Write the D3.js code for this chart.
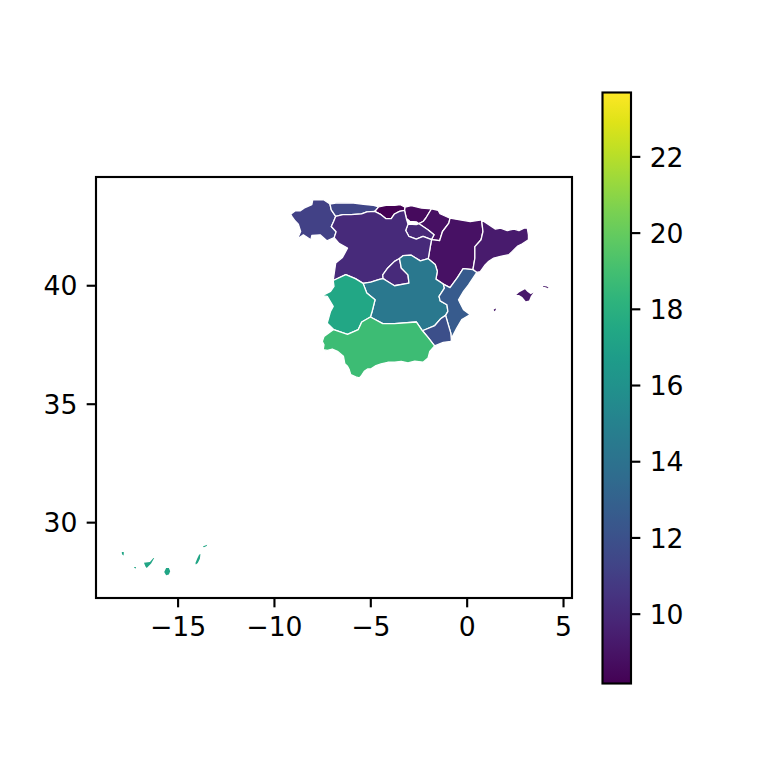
<!DOCTYPE html>
<html>
<head>
<meta charset="utf-8">
<script src="https://cdn.jsdelivr.net/npm/d3@7"></script>
<style>
	html, body { margin: 0; padding: 0; background: #fff; }
	svg { display: block; }
	text { font-family: "DejaVu Sans", sans-serif; }
</style>
</head>
<body>
<div class="d3-here"></div>
<script>
// Values per region
var regionNames = ['Galicia', 'Asturias', 'Cantabria', 'Pais Vasco', 'Navarra', 'La Rioja', 'Aragon', 'Cataluna',
	'Castilla y Leon', 'Madrid', 'Castilla-La Mancha', 'Extremadura', 'Valencia', 'Murcia', 'Andalucia', 'Baleares', 'Canarias'];
var regionValues = [11.2, 11.4, 8.2, 8.6, 8.8, 9.9, 8.9, 9.3, 10.0, 10.0, 14.4, 17.4, 12.6, 11.9, 18.8, 9.2, 17.3];

// Outlines, [lon, lat]. Neighbours share their border points
var galicia = [[[-9.16,43.02],[-8.93,43.16],[-8.67,43.16],[-8.41,43.30],[-8.06,43.42],[-8.01,43.63],[-7.45,43.63],[-7.12,43.45],[-7.05,43.20],[-6.82,42.93],[-6.93,42.71],[-7.05,42.50],[-6.80,42.28],[-6.90,42.03],[-7.28,41.90],[-7.63,42.15],[-8.06,42.12],[-8.11,41.94],[-8.50,42.15],[-8.81,41.97],[-8.64,42.29],[-8.76,42.60],[-8.93,42.74],[-9.06,42.88]]];
var asturias = [[[-7.12,43.45],[-6.75,43.50],[-5.90,43.49],[-5.38,43.44],[-4.86,43.39],[-4.59,43.33],[-4.70,43.22],[-4.80,43.14],[-5.20,43.12],[-5.48,43.03],[-6.02,43.00],[-6.45,43.00],[-6.82,42.93],[-7.05,43.20]]];
var cantabria = [[[-4.59,43.33],[-4.21,43.39],[-3.77,43.39],[-3.47,43.42],[-3.22,43.32],[-3.25,43.18],[-3.51,43.14],[-3.77,43.03],[-3.94,42.83],[-4.21,42.83],[-4.47,43.00],[-4.80,43.14],[-4.70,43.22]]];
var paisVasco = [[[-3.22,43.32],[-2.90,43.38],[-2.37,43.28],[-1.85,43.25],[-2.15,42.85],[-2.29,42.71],[-2.50,42.62],[-2.64,42.70],[-2.98,42.72],[-3.16,42.85],[-3.25,43.18]]];
var navarra = [[[-1.85,43.25],[-1.50,43.18],[-1.41,43.04],[-0.89,42.85],[-0.95,42.64],[-1.28,42.29],[-1.43,41.90],[-1.85,41.95],[-1.72,42.15],[-2.02,42.35],[-2.50,42.62],[-2.29,42.71],[-2.15,42.85]]];
var laRioja = [[[-3.07,42.60],[-2.64,42.58],[-2.50,42.62],[-2.02,42.35],[-1.72,42.15],[-1.85,41.95],[-2.29,42.08],[-2.64,41.97],[-3.02,42.08],[-3.19,42.33]]];
var aragon = [[[-0.89,42.85],[-0.37,42.78],[0.16,42.71],[0.75,42.78],[0.82,42.29],[0.72,41.94],[0.40,41.65],[0.40,41.17],[0.30,40.68],[-0.21,40.72],[-0.50,40.35],[-0.89,39.92],[-1.24,40.07],[-1.62,40.28],[-1.55,40.61],[-1.66,40.90],[-2.02,41.14],[-1.94,41.52],[-1.85,41.95],[-1.43,41.90],[-1.28,42.29],[-0.95,42.64]]];
var cataluna = [[[0.75,42.78],[1.47,42.39],[1.73,42.43],[2.08,42.33],[2.43,42.39],[2.69,42.33],[2.95,42.43],[3.12,42.43],[3.18,42.15],[3.18,41.94],[2.86,41.77],[2.60,41.66],[2.34,41.45],[2.16,41.31],[1.73,41.24],[1.38,41.17],[1.12,41.03],[0.94,40.89],[0.68,40.60],[0.50,40.56],[0.30,40.68],[0.40,41.17],[0.40,41.65],[0.72,41.94],[0.82,42.29]]];
var castillaLeon = [[[-6.82,42.93],[-6.45,43.00],[-6.02,43.00],[-5.48,43.03],[-5.20,43.12],[-4.80,43.14],[-4.47,43.00],[-4.21,42.83],[-3.94,42.83],[-3.77,43.03],[-3.51,43.14],[-3.25,43.18],[-3.16,42.85],[-3.07,42.60],[-3.19,42.33],[-3.02,42.08],[-2.64,41.97],[-2.29,42.08],[-1.85,41.95],[-1.94,41.52],[-2.02,41.14],[-2.43,41.05],[-2.90,41.29],[-3.33,41.27],[-3.51,41.15],[-3.77,41.03],[-4.12,40.75],[-4.38,40.46],[-4.36,40.30],[-4.55,40.27],[-5.00,40.15],[-5.40,40.10],[-5.80,40.30],[-6.30,40.47],[-6.95,40.22],[-6.82,40.96],[-6.47,41.19],[-6.21,41.59],[-6.65,41.79],[-6.90,42.03],[-6.80,42.28],[-7.05,42.50],[-6.93,42.71]]];
var madrid = [[[-3.51,41.15],[-3.42,40.75],[-3.07,40.46],[-3.02,40.11],[-3.77,40.00],[-4.21,40.22],[-4.36,40.30],[-4.38,40.46],[-4.12,40.75],[-3.77,41.03]]];
var castillaMancha = [[[-5.40,40.10],[-5.00,40.15],[-4.55,40.27],[-4.36,40.30],[-4.21,40.22],[-3.77,40.00],[-3.02,40.11],[-3.07,40.46],[-3.42,40.75],[-3.51,41.15],[-3.33,41.27],[-2.90,41.29],[-2.43,41.05],[-2.02,41.14],[-1.66,40.90],[-1.55,40.61],[-1.62,40.28],[-1.24,40.07],[-1.18,39.90],[-1.46,39.55],[-1.40,39.36],[-1.05,39.20],[-1.00,38.92],[-1.12,38.75],[-1.36,38.62],[-1.68,38.32],[-2.32,38.10],[-2.64,38.47],[-3.77,38.40],[-4.38,38.40],[-5.02,38.68],[-4.93,38.92],[-4.78,39.41],[-5.21,39.69]]];
var extremadura = [[[-6.95,40.22],[-6.30,40.47],[-5.80,40.30],[-5.40,40.10],[-5.21,39.69],[-4.78,39.41],[-4.93,38.92],[-5.02,38.68],[-5.47,38.47],[-5.65,38.15],[-6.21,37.95],[-6.93,38.15],[-7.26,38.42],[-7.09,38.92],[-6.95,39.13],[-7.26,39.55],[-7.52,39.58],[-7.09,39.76],[-6.91,39.97]]];
var valencia = [[[0.30,40.68],[0.50,40.56],[0.07,40.04],[-0.19,39.76],[-0.45,39.41],[-0.37,39.27],[-0.19,38.99],[0.16,38.78],[-0.28,38.57],[-0.54,38.21],[-0.80,37.80],[-0.82,37.72],[-0.85,38.00],[-0.98,38.36],[-1.12,38.75],[-1.00,38.92],[-1.05,39.20],[-1.40,39.36],[-1.46,39.55],[-1.18,39.90],[-1.24,40.07],[-0.89,39.92],[-0.50,40.35],[-0.21,40.72]]];
var murcia = [[[-2.32,38.10],[-1.68,38.32],[-1.36,38.62],[-1.12,38.75],[-0.98,38.36],[-0.85,38.00],[-0.82,37.72],[-0.84,37.65],[-1.24,37.61],[-1.69,37.46],[-2.03,37.82]]];
var andalucia = [[[-7.43,37.86],[-6.93,38.15],[-6.21,37.95],[-5.65,38.15],[-5.47,38.47],[-5.02,38.68],[-4.38,38.40],[-3.77,38.40],[-2.64,38.47],[-2.32,38.10],[-2.03,37.82],[-1.69,37.46],[-1.94,37.23],[-2.03,36.95],[-2.29,36.77],[-2.72,36.82],[-3.07,36.74],[-3.42,36.81],[-3.77,36.77],[-4.12,36.77],[-4.47,36.70],[-4.73,36.63],[-4.99,36.49],[-5.17,36.49],[-5.34,36.39],[-5.51,36.18],[-5.60,36.11],[-5.78,36.15],[-6.04,36.25],[-6.12,36.46],[-6.21,36.60],[-6.35,36.71],[-6.42,37.02],[-6.73,37.23],[-7.00,37.33],[-7.26,37.27],[-7.47,37.30],[-7.43,37.51],[-7.52,37.65]]];
var baleares = [
	[[2.55,39.61],[2.69,39.72],[3.00,39.85],[3.12,39.75],[3.30,39.64],[3.44,39.71],[3.30,39.56],[3.21,39.38],[3.04,39.35],[2.86,39.52],[2.69,39.61]],
	[[3.94,39.99],[4.13,39.97],[4.22,39.92],[4.19,39.89],[4.08,39.94],[3.94,39.96]],
	[[1.38,39.00],[1.50,39.04],[1.47,38.97],[1.40,38.92]]
];
var canarias = [
	[[-17.92,28.76],[-17.82,28.76],[-17.82,28.68],[-17.83,28.61],[-17.89,28.65],[-17.92,28.71]],
	[[-17.29,28.13],[-17.19,28.13],[-17.19,28.06],[-17.26,28.09]],
	[[-16.77,28.31],[-16.46,28.34],[-16.28,28.51],[-16.24,28.51],[-16.40,28.28],[-16.49,28.20],[-16.63,28.09],[-16.70,28.16]],
	[[-15.62,28.09],[-15.48,28.09],[-15.41,27.95],[-15.48,27.81],[-15.62,27.78],[-15.72,27.92]],
	[[-13.84,28.68],[-13.87,28.48],[-13.98,28.30],[-14.08,28.23],[-14.10,28.30],[-14.01,28.48],[-13.91,28.65]],
	[[-13.72,28.99],[-13.49,29.07],[-13.52,29.02],[-13.66,28.96]]
];
var regionShapes = [galicia, asturias, cantabria, paisVasco, navarra, laRioja, aragon, cataluna,
	castillaLeon, madrid, castillaMancha, extremadura, valencia, murcia, andalucia, baleares, canarias];
var islandShapes = [baleares, canarias];

var lonDomain = [-19.26, 5.44];
var latDomain = [26.82, 44.59];
var colorDomain = [8.18, 23.69];
var lonTicks = [-15, -10, -5, 0, 5];
var latTicks = [30, 35, 40];
var colorTicks = [10, 12, 14, 16, 18, 20, 22];

// Options
var width = 768;
var height = 768;
var axLeft = 96, axRight = 572, axTop = 177, axBottom = 598;
var barLeft = 602.5, barRight = 631, barTop = 92.5, barBottom = 683.5;
var spine = 2.13;
var tickLen = 9.33;
var tickPad = 9.33;
var fontSize = 26.67;

var xScale = d3.scaleLinear().domain(lonDomain).range([axLeft, axRight]);
var yScale = d3.scaleLinear().domain(latDomain).range([axBottom, axTop]);
var barScale = d3.scaleLinear().domain(colorDomain).range([barBottom, barTop]);
var colorScale = d3.scaleSequential(d3.interpolateViridis).domain(colorDomain);

var canvas = d3.select('.d3-here')
	.append('svg')
	.attr('width', width)
	.attr('height', height);

// regions, the islands are too small to carry a white edge
var line = d3.line()
	.x(function(d) { return xScale(d[0]); })
	.y(function(d) { return yScale(d[1]); });

canvas.append('g').attr('class', 'regions').selectAll('path')
	.data(regionShapes)
	.enter()
	.append('path')
	.attr('d', function(d) {
		return d.map(function(ring) { return line(ring) + 'Z'; }).join('');
	})
	.attr('fill', function(d, i) { return colorScale(regionValues[i]); })
	.attr('stroke', function(d) { return islandShapes.indexOf(d) < 0 ? '#fff' : 'none'; })
	.attr('stroke-width', 1.3)
	.attr('stroke-linejoin', 'round');

// map frame
canvas.append('rect')
	.attr('x', axLeft)
	.attr('y', axTop)
	.attr('width', axRight - axLeft)
	.attr('height', axBottom - axTop)
	.attr('fill', 'none')
	.attr('stroke', '#000')
	.attr('stroke-width', spine);

function styleAxis(g) {
	g.select('.domain').remove();
	g.selectAll('.tick line').attr('stroke', '#000').attr('stroke-width', spine);
	g.selectAll('.tick text').attr('fill', '#000').style('font-size', fontSize + 'px').style('font-family', '"DejaVu Sans", sans-serif');
}

function styleSideLabels(g) {
	g.selectAll('.tick text').attr('dy', '0.365em');
}

canvas.append('g')
	.attr('transform', 'translate(0,' + axBottom + ')')
	.call(d3.axisBottom(xScale).tickValues(lonTicks).tickSize(tickLen).tickPadding(tickPad).offset(0))
	.call(styleAxis);

canvas.append('g')
	.attr('transform', 'translate(' + axLeft + ',0)')
	.call(d3.axisLeft(yScale).tickValues(latTicks).tickSize(tickLen).tickPadding(tickPad).offset(0))
	.call(styleAxis)
	.call(styleSideLabels);

// colour bar
var grad = canvas.append('defs').append('linearGradient')
	.attr('id', 'bar-grad')
	.attr('x1', 0).attr('y1', 1)
	.attr('x2', 0).attr('y2', 0);

grad.selectAll('stop')
	.data(d3.range(0, 1.0001, 0.05))
	.enter()
	.append('stop')
	.attr('offset', function(d) { return d; })
	.attr('stop-color', function(d) { return d3.interpolateViridis(d); });

canvas.append('rect')
	.attr('x', barLeft)
	.attr('y', barTop)
	.attr('width', barRight - barLeft)
	.attr('height', barBottom - barTop)
	.attr('fill', 'url(#bar-grad)')
	.attr('stroke', '#000')
	.attr('stroke-width', spine);

canvas.append('g')
	.attr('transform', 'translate(' + barRight + ',0)')
	.call(d3.axisRight(barScale).tickValues(colorTicks).tickSize(tickLen).tickPadding(tickPad).offset(0))
	.call(styleAxis)
	.call(styleSideLabels);
</script>
</body>
</html>
